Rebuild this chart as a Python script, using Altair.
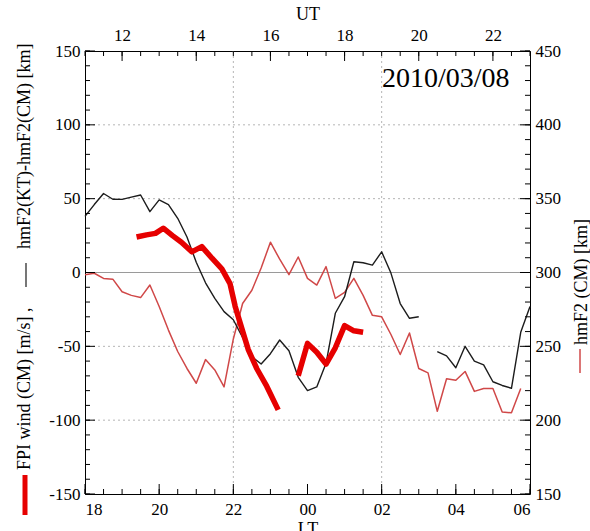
import altair as alt
import pandas as pd

FONT = "Liberation Serif"
W, H = 445, 443

# ---- hmF2(KT) - hmF2(CM) [km], local time in hours (24 = 00 LT) ----
lt_diff_a = [18.0, 18.25, 18.5, 18.75, 19.0, 19.25, 19.5, 19.75, 20.0, 20.25, 20.5, 20.75,
             21.0, 21.25, 21.5, 21.75, 22.0, 22.25, 22.5, 22.75, 23.0, 23.25, 23.5, 23.75,
             24.0, 24.25, 24.5, 24.75, 25.0, 25.25, 25.5, 25.75, 26.0, 26.25, 26.5, 26.75, 27.0]
diff_a = [38, 46, 53.5, 49.6, 49.5, 51, 52.5, 41.2, 49.2, 46, 36.7, 24,
          7, -7, -17.5, -26.5, -32, -44, -57, -62, -55, -45.7, -53, -71,
          -80, -77.5, -61.5, -27.6, -16.4, 7.3, 6.6, 5, 14, -0.4, -21, -31, -30]
lt_diff_b = [27.5, 27.75, 28.0, 28.25, 28.5, 28.75, 29.0, 29.25, 29.5, 29.75, 30.0]
diff_b = [-53.6, -56.5, -64.5, -50, -60, -62.6, -74, -76.5, -78.4, -40.5, -23]

# ---- hmF2 (CM) [km] ----
lt_hmf2 = [18.0, 18.25, 18.5, 18.75, 19.0, 19.25, 19.5, 19.75, 20.0, 20.25, 20.5, 20.75,
           21.0, 21.25, 21.5, 21.75, 22.0, 22.25, 22.5, 22.75, 23.0, 23.25, 23.5, 23.75,
           24.0, 24.25, 24.5, 24.75, 25.0, 25.25, 25.5, 25.75, 26.0, 26.25, 26.5, 26.75,
           27.0, 27.25, 27.5, 27.75, 28.0, 28.25, 28.5, 28.75, 29.0, 29.25, 29.5, 29.75]
hmf2_cm = [298.5, 299.5, 296, 295.5, 287, 284.5, 283, 291.5, 277, 261, 246.5, 235,
           225, 241, 234, 222.5, 255, 279, 288, 303, 320.5, 309, 298.5, 310.5,
           296, 291.5, 304, 282.5, 286.5, 296, 284.5, 271, 270, 258, 244.5, 259,
           235, 232, 206, 228, 227, 233, 219.5, 221.5, 221.5, 205.5, 205, 221.5]

# ---- FPI wind (CM) [m/s] ----
lt_wind_a = [19.39, 19.66, 19.9, 20.11, 20.36, 20.6, 20.88, 21.15, 21.43, 21.69, 21.91,
             22.05, 22.23, 22.4, 22.63, 22.9, 23.21]
wind_a = [24, 25.5, 26.5, 30, 25, 20.5, 14, 17.5, 9.5, 2.5, -7.5,
          -23, -38, -52, -65, -77, -93]
lt_wind_b = [23.75, 24.0, 24.25, 24.5, 24.75, 25.0, 25.25, 25.5]
wind_b = [-70, -48, -54, -62, -51, -36, -39.5, -40.5]

# axis tick values
lt_major = [18, 20, 22, 24, 26, 28, 30]
ut_major = [19, 21, 23, 25, 27, 29]          # UT 12 ... 22  (LT = UT + 7)
half_hours = [18 + 0.5 * i for i in range(25)]
left_major = [-150, -100, -50, 0, 50, 100, 150]
left_minor = [-150 + 10 * i for i in range(31)]
right_major = [150, 200, 250, 300, 350, 400, 450]
right_minor = [150 + 10 * i for i in range(31)]
grid_y = [-100, -50, 50, 100]
grid_x = [22, 26]

diff_df = pd.DataFrame({"lt": lt_diff_a + lt_diff_b, "v": diff_a + diff_b,
                        "seg": ["a"] * len(lt_diff_a) + ["b"] * len(lt_diff_b)})
hmf2_df = pd.DataFrame({"lt": lt_hmf2, "v": hmf2_cm})
wind_df = pd.DataFrame({"lt": lt_wind_a + lt_wind_b, "v": wind_a + wind_b,
                        "seg": ["a"] * len(lt_wind_a) + ["b"] * len(lt_wind_b)})

xs = alt.Scale(domain=[18, 30], nice=False, zero=False)
yl = alt.Scale(domain=[-150, 150], nice=False, zero=False)
yr = alt.Scale(domain=[150, 450], nice=False, zero=False)

lab = dict(labelFont=FONT, labelFontSize=17, labelColor="black", ticks=False,
           domain=False, grid=False)
ttl = dict(titleFont=FONT, titleFontSize=18, titleFontWeight="normal", titleColor="black")

bottom_axis = alt.Axis(orient="bottom", values=lt_major, title="LT", labelPadding=7,
                       titlePadding=3,
                       labelExpr="(datum.value % 24 < 10 ? '0' : '') + format(datum.value % 24, 'd')",
                       **lab, **ttl)
top_axis = alt.Axis(orient="top", values=ut_major, title="UT", labelPadding=7, titlePadding=3,
                    labelExpr="format(datum.value - 7, 'd')", **lab, **ttl)
# plain hyphen for negative numbers
left_axis = alt.Axis(orient="left", values=left_major, title=None, labelPadding=5,
                     labelExpr="'' + datum.value", **lab)
right_axis = alt.Axis(orient="right", values=right_major, title=None, labelPadding=5,
                      labelExpr="'' + datum.value", **lab)


def rows(name, vals):
    return pd.DataFrame({name: vals})


# dotted grid and zero line
hgrid = alt.Chart(rows("v", grid_y)).mark_rule(color="#b5b5b5", strokeDash=[2, 3], strokeWidth=1).encode(
    y=alt.Y("v:Q", scale=yl, axis=None))
vgrid = alt.Chart(rows("lt", grid_x)).mark_rule(color="#b5b5b5", strokeDash=[2, 3], strokeWidth=1).encode(
    x=alt.X("lt:Q", scale=xs, axis=None))
zero = alt.Chart(rows("v", [0])).mark_rule(color="#9a9a9a", strokeWidth=1).encode(
    y=alt.Y("v:Q", scale=yl, axis=None))

# data lines
hmf2_line = alt.Chart(hmf2_df).mark_line(color="#d04848", strokeWidth=1.5, strokeJoin="round").encode(
    x=alt.X("lt:Q", scale=xs, axis=top_axis),
    y=alt.Y("v:Q", scale=yr, axis=right_axis))
diff_line = alt.Chart(diff_df).mark_line(color="#1c1c1c", strokeWidth=1.4, strokeJoin="round").encode(
    x=alt.X("lt:Q", scale=xs, axis=bottom_axis),
    y=alt.Y("v:Q", scale=yl, axis=left_axis),
    detail="seg:N")
wind_line = alt.Chart(wind_df).mark_line(color="#e60000", strokeWidth=5.5, strokeJoin="round").encode(
    x=alt.X("lt:Q", scale=xs, axis=None),
    y=alt.Y("v:Q", scale=yl, axis=None),
    detail="seg:N")

# inward tick marks on all four sides
tick_style = dict(color="black", strokeWidth=1)
bt_major = alt.Chart(rows("lt", lt_major)).mark_rule(**tick_style).encode(
    x=alt.X("lt:Q", scale=xs, axis=None), y=alt.value(H), y2=alt.value(H - 10))
bt_minor = alt.Chart(rows("lt", half_hours)).mark_rule(**tick_style).encode(
    x=alt.X("lt:Q", scale=xs, axis=None), y=alt.value(H), y2=alt.value(H - 5))
tp_major = alt.Chart(rows("lt", ut_major)).mark_rule(**tick_style).encode(
    x=alt.X("lt:Q", scale=xs, axis=None), y=alt.value(0), y2=alt.value(10))
tp_minor = alt.Chart(rows("lt", half_hours)).mark_rule(**tick_style).encode(
    x=alt.X("lt:Q", scale=xs, axis=None), y=alt.value(0), y2=alt.value(5))
lf_major = alt.Chart(rows("v", left_major)).mark_rule(**tick_style).encode(
    y=alt.Y("v:Q", scale=yl, axis=None), x=alt.value(0), x2=alt.value(10))
lf_minor = alt.Chart(rows("v", left_minor)).mark_rule(**tick_style).encode(
    y=alt.Y("v:Q", scale=yl, axis=None), x=alt.value(0), x2=alt.value(5))
rt_major = alt.Chart(rows("v", right_major)).mark_rule(**tick_style).encode(
    y=alt.Y("v:Q", scale=yr, axis=None), x=alt.value(W), x2=alt.value(W - 10))
rt_minor = alt.Chart(rows("v", right_minor)).mark_rule(**tick_style).encode(
    y=alt.Y("v:Q", scale=yr, axis=None), x=alt.value(W), x2=alt.value(W - 5))

# date label
date_txt = alt.Chart(rows("t", ["2010/03/08"])).mark_text(
    font=FONT, fontSize=28, align="left", baseline="alphabetic", color="black").encode(
    text="t:N", x=alt.value(297), y=alt.value(36))

# left axis title with line keys
left_t1 = alt.Chart(rows("t", ["FPI wind (CM) [m/s] ,"])).mark_text(
    font=FONT, fontSize=18, angle=270, align="left", baseline="middle", color="black").encode(
    text="t:N", x=alt.value(-60), y=alt.value(419))
left_t2 = alt.Chart(rows("t", ["hmF2(KT)-hmF2(CM) [km]"])).mark_text(
    font=FONT, fontSize=18, angle=270, align="left", baseline="middle", color="black").encode(
    text="t:N", x=alt.value(-60), y=alt.value(198))
key_wind = alt.Chart(rows("k", [0])).mark_rule(color="#e60000", strokeWidth=5).encode(
    x=alt.value(-60), y=alt.value(424), y2=alt.value(464))
key_diff = alt.Chart(rows("k", [0])).mark_rule(color="#1c1c1c", strokeWidth=1.2).encode(
    x=alt.value(-59), y=alt.value(212), y2=alt.value(236))

# right axis title with line key
right_t = alt.Chart(rows("t", ["hmF2 (CM) [km]"])).mark_text(
    font=FONT, fontSize=18, angle=270, align="left", baseline="middle", color="black").encode(
    text="t:N", x=alt.value(497), y=alt.value(294))
key_hmf2 = alt.Chart(rows("k", [0])).mark_rule(color="#d04848", strokeWidth=1.5).encode(
    x=alt.value(495), y=alt.value(298), y2=alt.value(322))

chart = alt.layer(
    hgrid, vgrid, zero,
    hmf2_line, diff_line, wind_line,
    bt_major, bt_minor, tp_major, tp_minor, lf_major, lf_minor, rt_major, rt_minor,
    date_txt, left_t1, left_t2, key_wind, key_diff, right_t, key_hmf2,
).resolve_scale(
    x="independent", y="independent"
).properties(
    width=W, height=H,
    autosize=alt.AutoSizeParams(type="none"),
    padding={"left": 85, "top": 51, "right": 60, "bottom": 37},
    background="white",
).configure_view(
    stroke="black", strokeWidth=1
)

chart.save("out.html", embed_options={"renderer": "svg", "actions": False})
